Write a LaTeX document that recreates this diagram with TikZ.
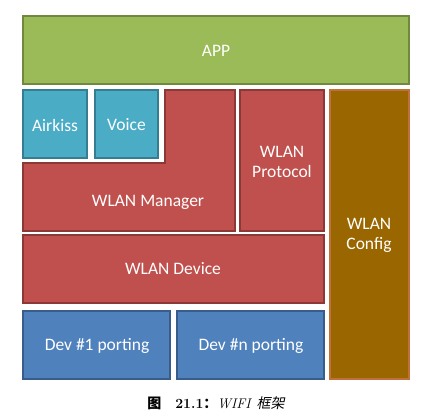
\documentclass[tikz,border=0pt]{standalone}
\usepackage{fontspec}
\newfontfamily\boxfont{Carlito}
\newfontfamily\cjk{Noto Sans CJK SC}
\newfontfamily\cjkit[FakeSlant=0.2]{Noto Sans CJK SC}
\definecolor{appfill}{HTML}{9BBB59}\definecolor{appline}{HTML}{71893F}
\definecolor{cyfill}{HTML}{4BACC6}\definecolor{cyline}{HTML}{357D91}
\definecolor{rdfill}{HTML}{C0504D}\definecolor{rdline}{HTML}{8C3836}
\definecolor{blfill}{HTML}{4F81BD}\definecolor{blline}{HTML}{385D8A}
\definecolor{cffill}{HTML}{996600}\definecolor{cfline}{HTML}{C0703A}
\begin{document}
\begin{tikzpicture}[x=1pt,y=-1pt,
  blk/.style={line width=1.3pt},
  lbl/.style={text=white,font=\boxfont\fontsize{17.5}{20}\selectfont,align=center,inner sep=0pt}]
\useasboundingbox (0,0) rectangle (437,418);
\draw[blk,fill=appfill,draw=appline] (23,16) rectangle (409,84);
\draw[blk,fill=cyfill,draw=cyline] (23,90) rectangle (87,158);
\draw[blk,fill=cyfill,draw=cyline] (95,90) rectangle (158,158);
\draw[blk,fill=rdfill,draw=rdline] (165,90) -- (235,90) -- (235,231) -- (23,231) -- (23,163) -- (165,163) -- cycle;
\draw[blk,fill=rdfill,draw=rdline] (240,90) rectangle (324,231);
\draw[blk,fill=cffill,draw=cfline] (330,90) rectangle (409,379);
\draw[blk,fill=rdfill,draw=rdline] (23,235) rectangle (324,303);
\draw[blk,fill=blfill,draw=blline] (23,311) rectangle (170,379);
\draw[blk,fill=blfill,draw=blline] (177,311) rectangle (324,379);
\node[lbl] (app) at (216,51) {APP};
\node[lbl] (airkiss) at (55,125) {Airkiss};
\node[lbl] (voice) at (126.5,125) {Voice};
\node[lbl] (mgr) at (148,202) {WLAN Manager};
\node[lbl] (proto) at (282,162) {WLAN\\Protocol};
\node[lbl] (cfg) at (369,235) {WLAN\\Config};
\node[lbl] (dev) at (173,269) {WLAN Device};
\node[lbl] (dev1) at (97,346) {Dev \#1 porting};
\node[lbl] (devn) at (251,346) {Dev \#n porting};
\node[inner sep=0pt,font=\fontsize{14}{16}\selectfont] (cap) at (216,403) {{\cjk\bfseries 图}\quad\textbf{21.1}{\cjk\bfseries ：}\textit{WIFI} {\cjkit 框架}};
\end{tikzpicture}
\end{document}
